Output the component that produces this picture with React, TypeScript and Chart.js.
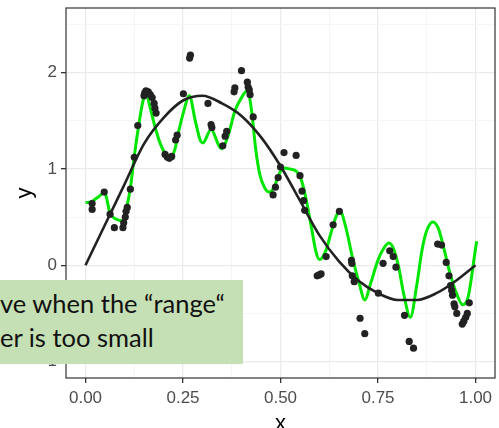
import React, { useEffect, useRef } from "react";
import { Chart, registerables } from "chart.js";

Chart.register(...registerables);

// Observed points
const pointX = [
  0.017, 0.017, 0.048, 0.063, 0.074, 0.096, 0.098, 0.102, 0.104, 0.107,
  0.115, 0.125, 0.134, 0.15, 0.152, 0.155, 0.161, 0.166, 0.171, 0.176,
  0.178, 0.181, 0.204, 0.21, 0.215, 0.221, 0.231, 0.235, 0.251, 0.267,
  0.269, 0.314, 0.322, 0.324, 0.352, 0.358, 0.362, 0.381, 0.383, 0.4,
  0.415, 0.417, 0.42, 0.422, 0.43, 0.481, 0.487, 0.494, 0.5, 0.509,
  0.54, 0.55, 0.555, 0.559, 0.562, 0.594, 0.599, 0.604, 0.617, 0.635,
  0.651, 0.682, 0.683, 0.684, 0.689, 0.704, 0.716, 0.751, 0.763, 0.78,
  0.789, 0.796, 0.818, 0.83, 0.841, 0.903, 0.913, 0.925, 0.932, 0.936,
  0.939, 0.941, 0.945, 0.947, 0.952, 0.966, 0.97, 0.975, 0.979, 0.984,
];
const pointY = [
  0.58, 0.64, 0.76, 0.53, 0.39, 0.39, 0.44, 0.5, 0.56, 0.6,
  0.79, 1.12, 1.45, 1.76, 1.79, 1.81, 1.8, 1.77, 1.74, 1.68,
  1.63, 1.58, 1.15, 1.12, 1.11, 1.13, 1.3, 1.35, 1.78, 2.15,
  2.18, 1.68, 1.46, 1.43, 1.24, 1.34, 1.39, 1.8, 1.84, 2.02,
  1.9, 1.85, 1.82, 1.77, 1.54, 0.73, 0.81, 0.91, 1.02, 1.17,
  1.14, 0.93, 0.77, 0.67, 0.57, -0.11, -0.1, -0.09, 0.09, 0.42,
  0.56, 0.05, 0.02, -0.11, -0.17, -0.55, -0.71, -0.29, 0.02, 0.15,
  0.09, -0.02, -0.52, -0.79, -0.86, 0.22, 0.21, 0.03, -0.11, -0.21,
  -0.26, -0.31, -0.4, -0.43, -0.5, -0.61, -0.58, -0.54, -0.5, -0.39,
];

// Smooth fit (wide span)
const fitX = [
  0, 0.05, 0.1, 0.15, 0.2, 0.25, 0.3, 0.35, 0.4, 0.45, 0.5,
  0.55, 0.6, 0.65, 0.7, 0.75, 0.8, 0.85, 0.9, 0.95, 1,
];
const fitY = [
  0, 0.42, 0.84, 1.26, 1.53, 1.71, 1.76, 1.68, 1.55, 1.33, 1.03,
  0.67, 0.31, 0.04, -0.16, -0.29, -0.36, -0.36, -0.29, -0.16, 0,
];

// Over-fitted curve (small range)
const wiggleX = [
  0, 0.015, 0.03, 0.049, 0.063, 0.078, 0.095, 0.106, 0.115, 0.125,
  0.136, 0.146, 0.155, 0.165, 0.178, 0.191, 0.204, 0.216, 0.229, 0.239,
  0.252, 0.266, 0.282, 0.294, 0.301, 0.322, 0.341, 0.349, 0.366, 0.383,
  0.4, 0.415, 0.426, 0.436, 0.447, 0.46, 0.472, 0.485, 0.494, 0.506,
  0.523, 0.542, 0.553, 0.566, 0.579, 0.591, 0.6, 0.617, 0.629, 0.642,
  0.653, 0.667, 0.684, 0.702, 0.716, 0.731, 0.748, 0.761, 0.778, 0.79,
  0.803, 0.816, 0.833, 0.85, 0.863, 0.875, 0.891, 0.905, 0.918, 0.935,
  0.952, 0.967, 0.981, 0.99, 0.997, 1.003,
];
const wiggleY = [
  0.65, 0.66, 0.7, 0.75, 0.54, 0.48, 0.46, 0.61, 0.8, 1.13,
  1.44, 1.68, 1.79, 1.65, 1.44, 1.27, 1.16, 1.11, 1.2, 1.39,
  1.6, 1.76, 1.49, 1.3, 1.27, 1.41, 1.25, 1.21, 1.35, 1.6,
  1.74, 1.81, 1.6, 1.22, 0.94, 0.8, 0.76, 0.82, 0.92, 1.01,
  1.0, 0.97, 0.89, 0.68, 0.4, 0.14, 0.06, 0.16, 0.33, 0.5,
  0.56, 0.4, 0.09, -0.19, -0.36, -0.19, 0.03, 0.15, 0.23, 0.17,
  -0.02, -0.3, -0.54, -0.19, 0.16, 0.36, 0.45, 0.38, 0.19, -0.09,
  -0.3, -0.41, -0.33, -0.12, 0.09, 0.25,
];

const xMajorTicks = [0, 0.25, 0.5, 0.75, 1];
const xMinorTicks = [0.125, 0.375, 0.625, 0.875];
const xTickLabels = ["0.00", "0.25", "0.50", "0.75", "1.00"];
const yMajorTicks = [-1, 0, 1, 2];
const yMinorTicks = [-0.5, 0.5, 1.5, 2.5];
const yTickLabels = ["-1", "0", "1", "2"];

const noteLines = ["ve when the \u201crange\u201c", "er is too small"];

const toXY = (xs: number[], ys: number[]) => xs.map((x, i) => ({ x, y: ys[i] }));
const majorIndex = (list: number[], v: number) =>
  list.findIndex((m) => Math.abs(m - v) < 1e-6);

const FONT = "'Liberation Sans', Arial, sans-serif";

const panelBorder = {
  id: "panelBorder",
  afterDraw(chart: any) {
    const { ctx, chartArea: a } = chart;
    ctx.save();
    ctx.strokeStyle = "#333333";
    ctx.lineWidth = 1.2;
    ctx.strokeRect(a.left, a.top, a.right - a.left, a.bottom - a.top);
    ctx.restore();
  },
};

function axisOptions(
  majors: number[],
  minors: number[],
  labels: string[],
  min: number,
  max: number,
  title: string,
  isX: boolean
) {
  return {
    type: "linear",
    position: isX ? "bottom" : "left",
    min,
    max,
    afterBuildTicks: (scale: any) => {
      scale.ticks = [...majors, ...minors]
        .sort((a, b) => a - b)
        .map((value) => ({ value }));
    },
    afterFit: (scale: any) => {
      if (isX) scale.height = 50;
      else scale.width = 66;
      scale.paddingTop = 0;
      scale.paddingBottom = 0;
      scale.paddingLeft = 0;
      scale.paddingRight = 0;
    },
    border: { display: false },
    grid: {
      color: (c: any) =>
        majorIndex(majors, c.tick?.value) >= 0 ? "#ebebeb" : "#f3f3f3",
      lineWidth: (c: any) => (majorIndex(majors, c.tick?.value) >= 0 ? 1.3 : 0.8),
      tickColor: (c: any) =>
        majorIndex(majors, c.tick?.value) >= 0 ? "#333333" : "rgba(0,0,0,0)",
      tickLength: 5,
      drawTicks: true,
    },
    ticks: {
      autoSkip: false,
      maxRotation: 0,
      padding: isX ? 5 : 4,
      color: "#4d4d4d",
      font: { family: FONT, size: 17 },
      callback: (v: number) => {
        const i = majorIndex(majors, v);
        return i >= 0 ? labels[i] : "";
      },
    },
    title: {
      display: true,
      text: title,
      color: "#000000",
      font: { family: FONT, size: 22, lineHeight: isX ? 0.4 : 0.8 },
      padding: isX ? { top: 0, bottom: 0 } : { top: 16, bottom: 0 },
    },
  };
}

export default function App() {
  const canvasRef = useRef<HTMLCanvasElement | null>(null);

  useEffect(() => {
    if (!canvasRef.current) return;
    const chart = new Chart(canvasRef.current, {
      type: "scatter",
      data: {
        datasets: [
          {
            label: "points",
            data: toXY(pointX, pointY),
            backgroundColor: "#222222",
            borderWidth: 0,
            pointRadius: 3.6,
            order: 0,
          },
          {
            label: "fit",
            data: toXY(fitX, fitY),
            showLine: true,
            borderColor: "#222222",
            borderWidth: 2.6,
            pointRadius: 0,
            cubicInterpolationMode: "monotone",
            order: 1,
          },
          {
            label: "small range",
            data: toXY(wiggleX, wiggleY),
            showLine: true,
            borderColor: "#00e600",
            borderWidth: 3,
            pointRadius: 0,
            cubicInterpolationMode: "monotone",
            order: 2,
          },
        ],
      },
      options: {
        responsive: false,
        animation: false,
        devicePixelRatio: 1,
        layout: { padding: { top: 8, right: 1, left: 0, bottom: 0 } },
        plugins: {
          legend: { display: false },
          tooltip: { enabled: false },
        },
        scales: {
          x: axisOptions(xMajorTicks, xMinorTicks, xTickLabels, -0.05, 1.05, "x", true),
          y: axisOptions(yMajorTicks, yMinorTicks, yTickLabels, -1.17, 2.67, "y", false),
        },
      } as any,
      plugins: [panelBorder],
    });
    return () => chart.destroy();
  }, []);

  return (
    <div
      style={{
        position: "fixed",
        left: 0,
        top: 0,
        width: 499,
        height: 428,
        background: "#ffffff",
        overflow: "hidden",
      }}
    >
      <canvas ref={canvasRef} width={499} height={428} style={{ width: 499, height: 428 }} />
      <div
        style={{
          position: "absolute",
          left: 0,
          top: 280,
          width: 243,
          height: 84,
          boxSizing: "border-box",
          paddingTop: 6,
          background: "#c5e0b4",
          color: "#111111",
          fontFamily: "Lato, 'Open Sans', sans-serif",
          fontSize: 25.5,
          lineHeight: "34px",
          whiteSpace: "nowrap",
          overflow: "hidden",
        }}
      >
        {noteLines.map((t) => (
          <div key={t}>{t}</div>
        ))}
      </div>
    </div>
  );
}
